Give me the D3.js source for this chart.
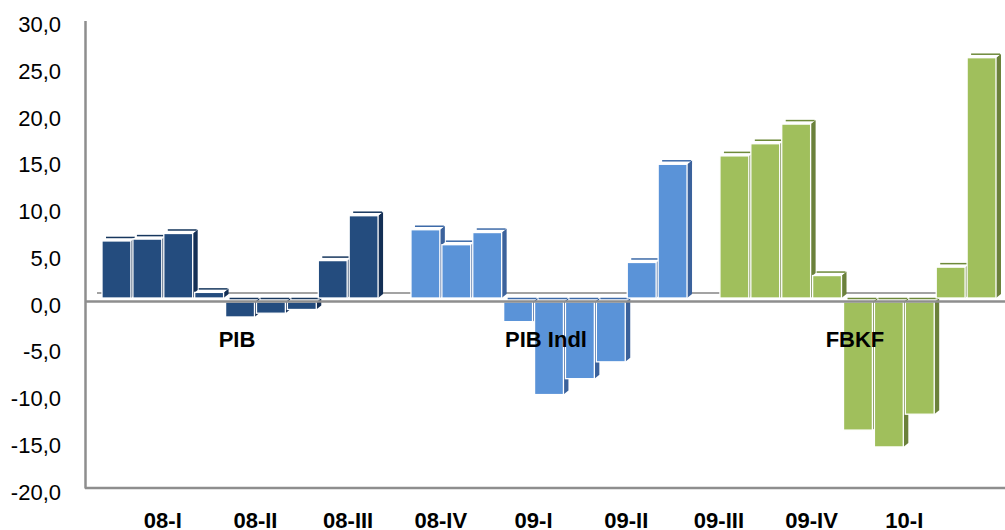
<!DOCTYPE html>
<html>
<head>
<meta charset="utf-8">
<script src="https://cdn.jsdelivr.net/npm/d3@7"></script>
<style>
    body { margin: 0; background: #fff; }
    text { font-family: "Liberation Sans", Arial, sans-serif; }
</style>
</head>
<body>
<div class="chart"></div>
<script>
// series names (labels written under each group)
const series_names = ["PIB", "PIB Indl", "FBKF"];

// quarter labels along the bottom
const quarters = ["08-I", "08-II", "08-III", "08-IV", "09-I", "09-II", "09-III", "09-IV", "10-I"];

// growth values, one per quarter
const pib      = [6.1, 6.3, 6.9, 0.6, -1.6, -1.2, -0.8, 4.0, 8.8];
const pib_indl = [7.3, 5.7, 7.0, -2.1, -9.9, -8.2, -6.4, 3.8, 14.3];
const fbkf     = [15.2, 16.5, 18.6, 2.4, -13.7, -15.5, -12.0, 3.3, 25.7];

const y_ticks = [-20, -15, -10, -5, 0, 5, 10, 15, 20, 25, 30];

const front_colors = ["#244c7e", "#5a93d8", "#a0bf5c"];
const side_colors  = ["#142f55", "#3b629c", "#6b813b"];
const edge_colors  = ["#17375e", "#3d6aa8", "#6e8a3a"];

const width = 1005;
const height = 530;
const margin = { top: 20.5, bottom: 42, left: 85, right: 0 };

// 3d depth of the bars
const depth_x = 5;
const depth_y = -4;

const axis_grey = "#8e8e8e";

// lay the three groups out one after the other with an empty slot between
var slots = [];
[pib, pib_indl, fbkf].forEach(function(values, s) {
    if (s > 0) slots.push({ value: null, series: s });
    values.forEach(function(v) { slots.push({ value: v, series: s }); });
});
slots.forEach(function(d, i) { d.slot = i; });

const svg = d3.select(".chart")
    .append("svg")
    .attr("width", width)
    .attr("height", height);

const x_scale = d3.scaleBand()
    .domain(d3.range(slots.length))
    .range([101, 997]);

const y_scale = d3.scaleLinear()
    .domain([-20, 30])
    .range([height - margin.bottom, margin.top]);

const bw = x_scale.bandwidth();
const y0 = y_scale(0);

// back edge of the floor
svg.append("line")
    .attr("x1", x_scale(0) - 4)
    .attr("x2", x_scale(slots.length - 1) + bw)
    .attr("y1", y0 - 8)
    .attr("y2", y0 - 8)
    .attr("stroke", "#a3a3a3")
    .attr("stroke-width", 2);

// bar geometry: positive bars sit slightly above the zero line, negatives just below
function bar_box(d) {
    var x0 = x_scale(d.slot) + 1;
    var x1 = x_scale(d.slot) + bw - 1;
    var top, bottom;
    if (d.value >= 0) {
        top = y_scale(d.value) - 3;
        bottom = y0 - 3;
    } else {
        top = y0 + 1;
        bottom = y_scale(d.value) + 1;
    }
    return { x0: x0, x1: x1, top: top, bottom: bottom };
}

const bars = svg.selectAll("g.bar")
    .data(slots.filter(function(d) { return d.value !== null; }))
    .enter()
    .append("g")
    .attr("class", "bar");

// side face
bars.append("polygon")
    .attr("points", function(d) {
        var b = bar_box(d);
        return [[b.x1, b.top], [b.x1 + depth_x, b.top + depth_y],
                [b.x1 + depth_x, b.bottom + depth_y], [b.x1, b.bottom]].join(" ");
    })
    .attr("fill", function(d) { return side_colors[d.series]; });

// top face
bars.append("polygon")
    .attr("points", function(d) {
        var b = bar_box(d);
        return [[b.x0, b.top], [b.x0 + depth_x, b.top + depth_y],
                [b.x1 + depth_x, b.top + depth_y], [b.x1, b.top]].join(" ");
    })
    .attr("fill", "#ffffff");

bars.append("line")
    .attr("x1", function(d) { return bar_box(d).x0 + depth_x - 1; })
    .attr("x2", function(d) { return bar_box(d).x1 + depth_x - 1; })
    .attr("y1", function(d) { return bar_box(d).top + depth_y + 0.5; })
    .attr("y2", function(d) { return bar_box(d).top + depth_y + 0.5; })
    .attr("stroke", function(d) { return edge_colors[d.series]; })
    .attr("stroke-width", 1.5);

// front face
bars.append("rect")
    .attr("x", function(d) { return bar_box(d).x0; })
    .attr("y", function(d) { return bar_box(d).top; })
    .attr("width", function(d) { var b = bar_box(d); return b.x1 - b.x0; })
    .attr("height", function(d) { var b = bar_box(d); return b.bottom - b.top; })
    .attr("fill", function(d) { return front_colors[d.series]; })
    .attr("stroke", "#ffffff")
    .attr("stroke-width", 1.3);

// zero line
svg.append("line")
    .attr("x1", margin.left)
    .attr("x2", width)
    .attr("y1", y0 + 0.5)
    .attr("y2", y0 + 0.5)
    .attr("stroke", axis_grey)
    .attr("stroke-width", 2.5);

// bottom line
svg.append("line")
    .attr("x1", margin.left)
    .attr("x2", width)
    .attr("y1", y_scale(-20))
    .attr("y2", y_scale(-20))
    .attr("stroke", axis_grey)
    .attr("stroke-width", 2.5);

// y axis
const y_axis = svg.append("g")
    .attr("class", "y_axis")
    .attr("transform", "translate(" + margin.left + ",0)")
    .call(d3.axisLeft(y_scale)
        .tickValues(y_ticks)
        .tickSize(0)
        .tickPadding(24)
        .tickFormat(function(d) { return d3.format(".1f")(d).replace(".", ",").replace("−", "-"); }));

y_axis.select(".domain")
    .attr("stroke", axis_grey)
    .attr("stroke-width", 2.5);

y_axis.selectAll("text")
    .attr("dy", "0.5em")
    .style("font-size", "22px")
    .style("fill", "#000");

// quarter labels, every third slot
svg.selectAll("text.quarter")
    .data(quarters)
    .enter()
    .append("text")
    .attr("class", "quarter")
    .attr("x", function(d, i) { return x_scale(2 + 3 * i); })
    .attr("y", y_scale(-20) + 40)
    .attr("text-anchor", "middle")
    .style("font-size", "22px")
    .style("font-weight", "bold")
    .text(function(d) { return d; });

// series names under each group
svg.selectAll("text.series")
    .data(series_names)
    .enter()
    .append("text")
    .attr("class", "series")
    .attr("x", function(d, i) { return x_scale(4 + 10 * i) + bw / 2 - 3; })
    .attr("y", y0 + 46)
    .attr("text-anchor", "middle")
    .style("font-size", "22px")
    .style("font-weight", "bold")
    .text(function(d) { return d; });
</script>
</body>
</html>
